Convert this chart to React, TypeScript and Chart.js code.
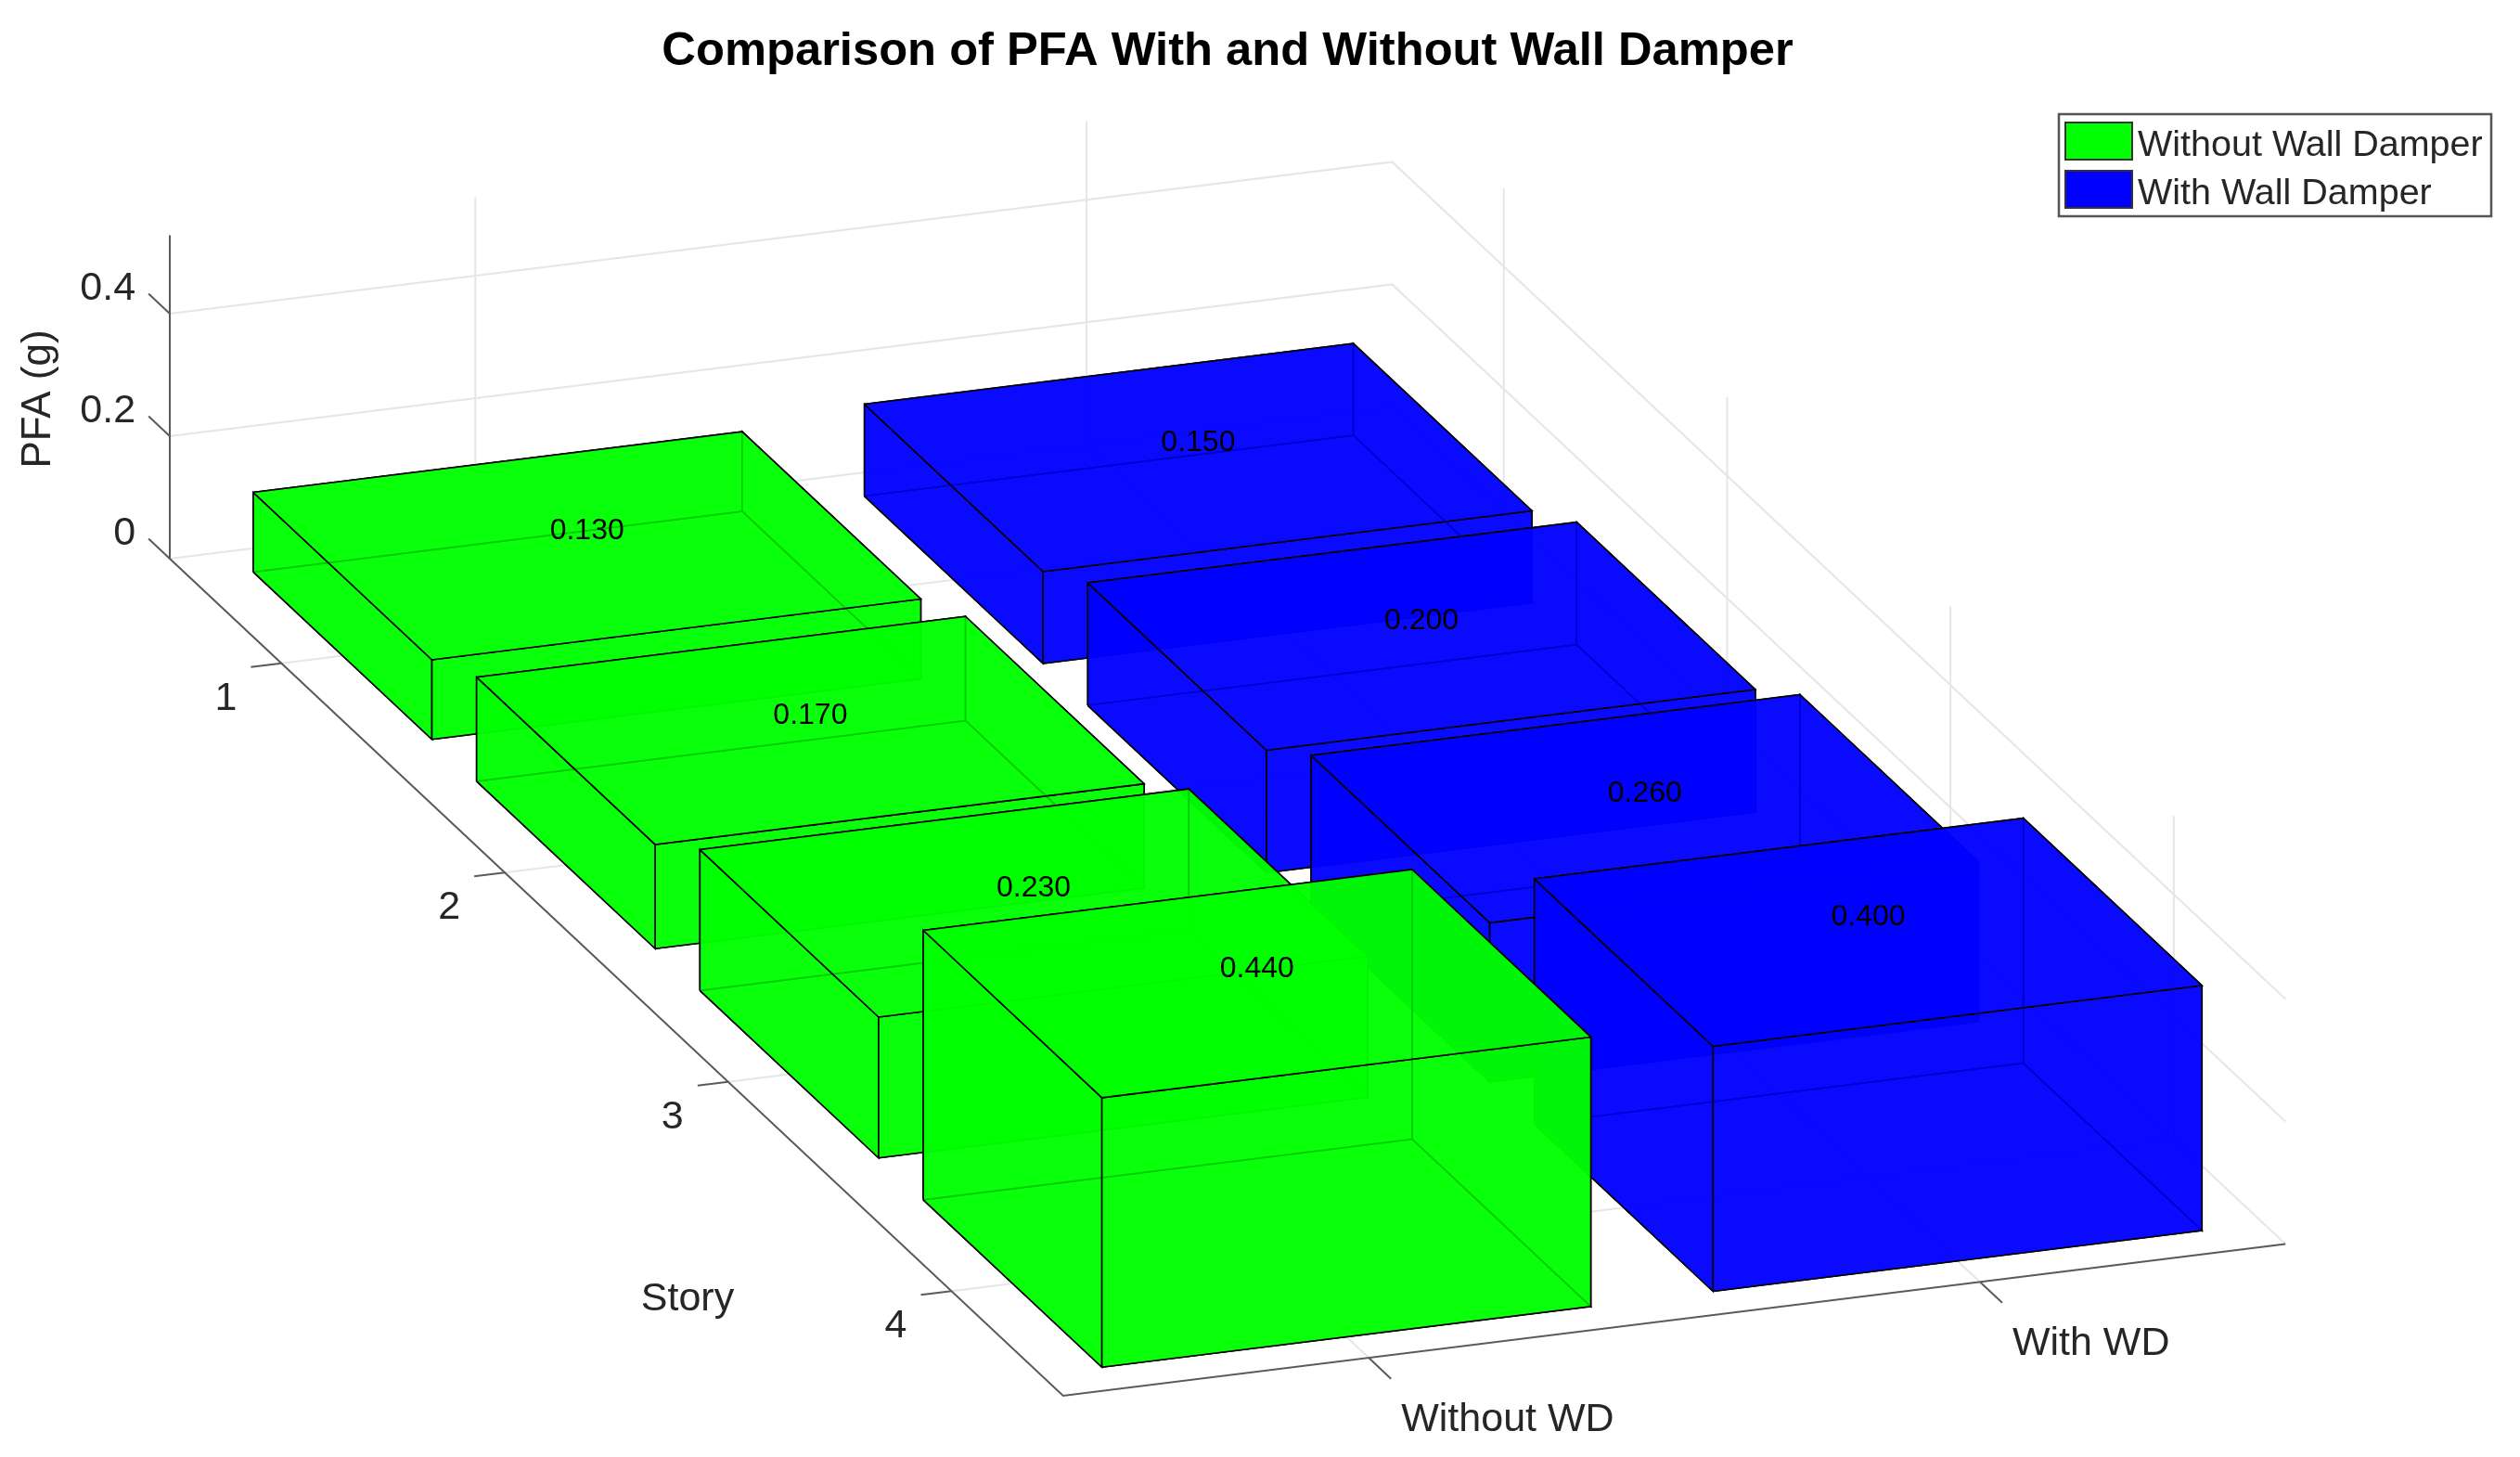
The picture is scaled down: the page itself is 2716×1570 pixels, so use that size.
import React, { useEffect, useRef } from "react";
import { Chart, registerables } from "chart.js";

Chart.register(...registerables);

// ---- data ----
const titleText = "Comparison of PFA With and Without Wall Damper";
const storyLabels = ["1", "2", "3", "4"];
const columnLabels = ["Without WD", "With WD"];
const legendLabels = ["Without Wall Damper", "With Wall Damper"];
const withoutWD = [0.13, 0.17, 0.23, 0.44];
const withWD = [0.15, 0.2, 0.26, 0.4];
const pfaTicks = [0, 0.2, 0.4];
const pfaTickLabels = ["0", "0.2", "0.4"];

// ---- view of the 3-D axes box ----
const W = 2716;
const H = 1570;
const ORIGIN = { x: 183, y: 602 };
const COL = { x: 658.7, y: -81.8 };
const STORY = { x: 240.7, y: 225.5 };
const Z_SCALE = 660;
const COL_RANGE = [0.5, 2.5];
const STORY_RANGE = [0.5, 4.5];
const Z_MAX = 0.528;
const BAR = 0.8;
const FACE_ALPHA = 0.8;
const GREEN = `rgba(0,255,0,${FACE_ALPHA})`;
const BLUE = `rgba(0,0,255,${FACE_ALPHA})`;
const GRID = "#e6e6e6";
const AXIS = "#5a5a5a";
const TEXT = "#262626";
const FONT = '"Liberation Sans", Arial, sans-serif';

type P = { x: number; y: number };
const project = (c: number, s: number, z: number): P => ({
  x: ORIGIN.x + (c - COL_RANGE[0]) * COL.x + (s - STORY_RANGE[0]) * STORY.x,
  y: ORIGIN.y + (c - COL_RANGE[0]) * COL.y + (s - STORY_RANGE[0]) * STORY.y - z * Z_SCALE,
});

const line = (pts: P[], color: string, width: number) => ({
  type: "scatter" as const,
  data: pts,
  showLine: true,
  fill: false,
  borderColor: color,
  borderWidth: width,
  pointRadius: 0,
  tension: 0,
});

const face = (pts: P[], color: string) => ({
  type: "scatter" as const,
  data: [...pts, pts[0]],
  showLine: true,
  fill: "shape",
  backgroundColor: color,
  borderColor: "#000000",
  borderWidth: 1.6,
  borderJoinStyle: "miter" as const,
  pointRadius: 0,
  tension: 0,
});

function boxFaces(col: number, story: number, value: number, color: string) {
  const c0 = col - BAR / 2;
  const c1 = col + BAR / 2;
  const s0 = story - BAR / 2;
  const s1 = story + BAR / 2;
  const q = (c: number, s: number, z: number) => project(c, s, z);
  return [
    face([q(c0, s0, 0), q(c1, s0, 0), q(c1, s1, 0), q(c0, s1, 0)], color), // bottom
    face([q(c0, s0, 0), q(c1, s0, 0), q(c1, s0, value), q(c0, s0, value)], color), // back
    face([q(c0, s0, 0), q(c0, s1, 0), q(c0, s1, value), q(c0, s0, value)], color), // left
    face([q(c1, s0, 0), q(c1, s1, 0), q(c1, s1, value), q(c1, s0, value)], color), // right
    face([q(c0, s1, 0), q(c1, s1, 0), q(c1, s1, value), q(c0, s1, value)], color), // front
    face([q(c0, s0, value), q(c1, s0, value), q(c1, s1, value), q(c0, s1, value)], color), // top
  ];
}

function buildDatasets() {
  const [cA, cB] = COL_RANGE;
  const [sA, sB] = STORY_RANGE;
  const out: any[] = [];
  // back walls and floor grid
  pfaTicks.forEach((z) => {
    out.push(line([project(cA, sA, z), project(cB, sA, z), project(cB, sB, z)], GRID, 2));
  });
  columnLabels.forEach((_, i) => {
    const c = i + 1;
    out.push(line([project(c, sB, 0), project(c, sA, 0), project(c, sA, Z_MAX)], GRID, 2));
  });
  storyLabels.forEach((_, i) => {
    const s = i + 1;
    out.push(line([project(cA, s, 0), project(cB, s, 0), project(cB, s, Z_MAX)], GRID, 2));
  });
  // axis rulers and ticks
  out.push(line([project(cA, sA, Z_MAX), project(cA, sA, 0), project(cA, sB, 0), project(cB, sB, 0)], AXIS, 2));
  pfaTicks.forEach((z) => {
    out.push(line([project(cA, sA, z), project(cA, sA - 0.095, z)], AXIS, 2));
  });
  storyLabels.forEach((_, i) => {
    out.push(line([project(cA, i + 1, 0), project(cA - 0.05, i + 1, 0)], AXIS, 2));
  });
  columnLabels.forEach((_, i) => {
    out.push(line([project(i + 1, sB, 0), project(i + 1, sB + 0.1, 0)], AXIS, 2));
  });
  // bars: blue column first, green column painted over it
  withWD.forEach((v, i) => out.push(...boxFaces(2, i + 1, v, BLUE)));
  withoutWD.forEach((v, i) => out.push(...boxFaces(1, i + 1, v, GREEN)));
  // chart.js paints the highest order first
  return out.map((d, i) => ({ ...d, order: out.length - i }));
}

const textPlugin = {
  id: "boxText",
  afterDatasetsDraw(chart: any) {
    const { ctx, scales } = chart;
    const px = (p: P): P => ({
      x: scales.x.getPixelForValue(p.x),
      y: scales.y.getPixelForValue(p.y),
    });
    const put = (
      t: string,
      p: P,
      dx: number,
      dy: number,
      font: string,
      color: string,
      align: CanvasTextAlign = "center"
    ) => {
      const a = px(p);
      ctx.font = font;
      ctx.fillStyle = color;
      ctx.textAlign = align;
      ctx.textBaseline = "middle";
      ctx.fillText(t, a.x + dx, a.y + dy);
    };
    const [cA, cB] = COL_RANGE;
    const [sA, sB] = STORY_RANGE;
    const tickFont = `43px ${FONT}`;
    ctx.save();
    // title
    put(titleText, { x: 1323, y: 56 }, 0, 0, `bold 50.7px ${FONT}`, "#000000");
    // z ticks
    pfaTicks.forEach((z, i) => {
      put(pfaTickLabels[i], project(cA, sA - 0.095, z), -14, -5, tickFont, TEXT, "right");
    });
    // story ticks
    storyLabels.forEach((t, i) => {
      put(t, project(cA - 0.05, i + 1, 0), -27, 34, tickFont, TEXT);
    });
    // column ticks
    columnLabels.forEach((t, i) => {
      put(t, project(i + 1, sB + 0.1, 0), 11, 44, tickFont, TEXT, "left");
    });
    // axis titles
    put("Story", { x: 741, y: 1400 }, 0, 0, tickFont, TEXT);
    const yl = px({ x: 42, y: 430 });
    ctx.save();
    ctx.translate(yl.x, yl.y);
    ctx.rotate(-Math.PI / 2);
    ctx.font = `44px ${FONT}`;
    ctx.fillStyle = TEXT;
    ctx.textAlign = "center";
    ctx.textBaseline = "middle";
    ctx.fillText("PFA (g)", 0, 0);
    ctx.restore();
    // bar value labels
    const valueFont = `32px ${FONT}`;
    withoutWD.forEach((v, i) => put(v.toFixed(3), project(1, i + 1, v), 0, -16, valueFont, "#000000"));
    withWD.forEach((v, i) => put(v.toFixed(3), project(2, i + 1, v), 0, -16, valueFont, "#000000"));
    // legend
    const lt = px({ x: 2219, y: 123 });
    const lb = px({ x: 2685, y: 233 });
    ctx.fillStyle = "#ffffff";
    ctx.fillRect(lt.x, lt.y, lb.x - lt.x, lb.y - lt.y);
    ctx.strokeStyle = "#555555";
    ctx.lineWidth = 2.5;
    ctx.strokeRect(lt.x, lt.y, lb.x - lt.x, lb.y - lt.y);
    legendLabels.forEach((t, i) => {
      const top = 132 + i * 52;
      ctx.fillStyle = i === 0 ? "#00ff00" : "#0000ff";
      ctx.fillRect(2226, top, 72, 40);
      ctx.strokeStyle = "#333333";
      ctx.lineWidth = 2;
      ctx.strokeRect(2226, top, 72, 40);
      put(t, { x: 2304, y: top + 25 }, 0, 0, `39.5px ${FONT}`, TEXT, "left");
    });
    ctx.restore();
  },
};

export default function App() {
  const ref = useRef<HTMLCanvasElement>(null);
  useEffect(() => {
    if (!ref.current) return;
    const chart = new Chart(ref.current, {
      type: "scatter",
      data: { datasets: buildDatasets() },
      plugins: [textPlugin],
      options: {
        animation: false,
        responsive: false,
        layout: { padding: 0 },
        plugins: { legend: { display: false }, title: { display: false }, tooltip: { enabled: false } },
        scales: {
          x: { type: "linear", min: 0, max: W, display: false },
          y: { type: "linear", min: 0, max: H, reverse: true, display: false },
        },
      },
    } as any);
    return () => chart.destroy();
  }, []);
  return (
    <canvas
      ref={ref}
      width={W}
      height={H}
      style={{ position: "fixed", left: 0, top: 0, width: W, height: H, background: "#fff" }}
    />
  );
}
